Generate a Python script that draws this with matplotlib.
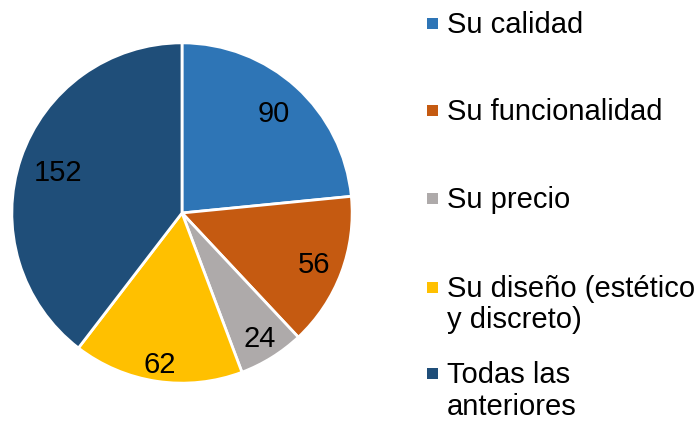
import numpy as np
import matplotlib.pyplot as plt
from matplotlib.patches import Rectangle

plt.rcParams['font.family'] = ['Liberation Sans', 'DejaVu Sans']

labels = ['Su calidad', 'Su funcionalidad', 'Su precio',
          'Su diseño (estético\ny discreto)', 'Todas las\nanteriores']
values = [90, 56, 24, 62, 152]
colors = ['#2E75B6', '#C55A11', '#AEAAAA', '#FFC000', '#1F4E79']

W, H = 699, 423
fig = plt.figure(figsize=(W / 100, H / 100), dpi=100)
ax = fig.add_axes([11 / W, 39 / H, 342 / W, 342 / H])
wedges, texts = ax.pie(values, colors=colors, startangle=90, counterclock=False,
                       labels=[str(v) for v in values], labeldistance=0.8,
                       wedgeprops=dict(edgecolor='white', linewidth=2),
                       textprops=dict(fontsize=21, color='black', ha='center',
                                      va='center'))
# data labels sit a little further out in the lower half, like Excel does
label_r = [0.80, 0.83, 0.86, 0.89, 0.77]
for w, t, r in zip(wedges, texts, label_r):
    ang = np.deg2rad((w.theta1 + w.theta2) / 2)
    t.set_position((r * np.cos(ang), r * np.sin(ang) - 0.012))

ax.set_xlim(-1.005, 1.005)
ax.set_ylim(-1.005, 1.005)
ax.set_aspect('equal')
ax.axis('off')

# legend, drawn by hand to keep the uneven spacing (baseline of first line, px)
baselines = [33, 120, 208, 297, 383]
line_gap = 31.5
for lab, col, yb in zip(labels, colors, baselines):
    fig.patches.append(Rectangle((427 / W, 1 - (yb - 4) / H), 11 / W, 11 / H,
                                 transform=fig.transFigure, facecolor=col, edgecolor='none'))
    for i, line in enumerate(lab.split('\n')):
        fig.text(447 / W, 1 - (yb + i * line_gap) / H, line, fontsize=21,
                 va='baseline', ha='left')

fig.savefig('out.png', dpi=100)
